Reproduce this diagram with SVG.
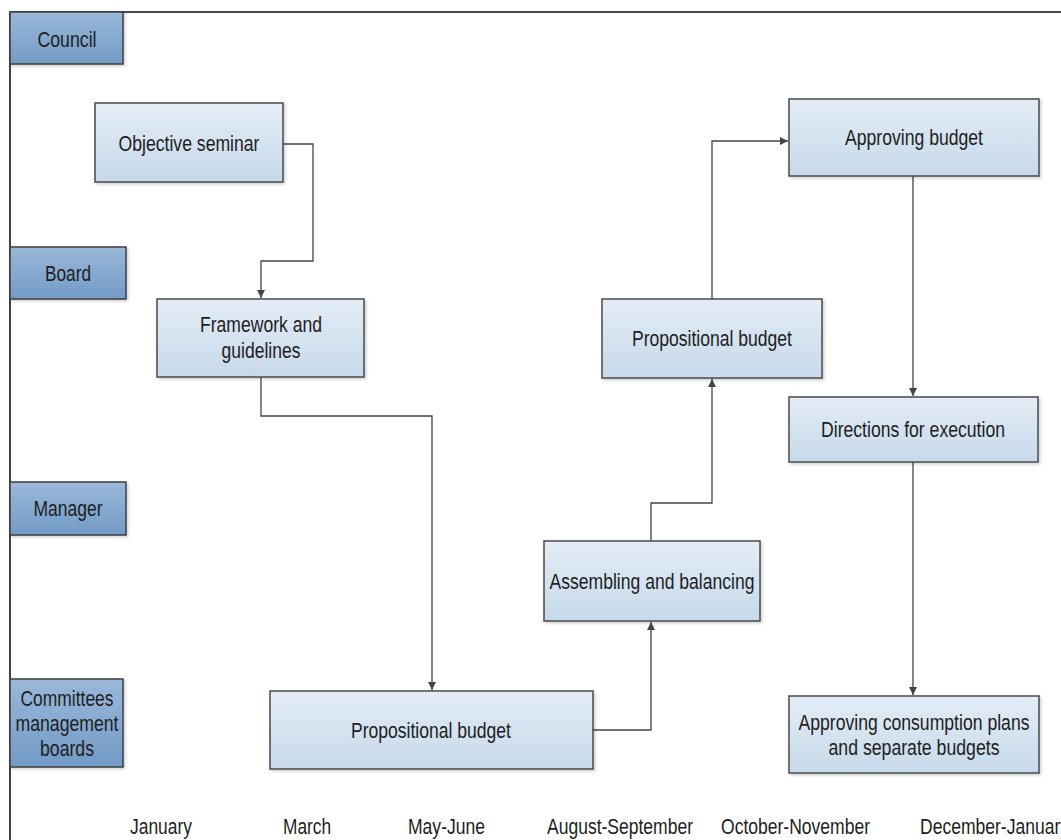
<svg xmlns="http://www.w3.org/2000/svg" width="1061" height="840" viewBox="0 0 1061 840">
  <style>
    .lane { fill: url(#laneGrad); stroke: #3f3f3f; stroke-width: 1.5; filter: url(#shadow); }
    .proc { fill: url(#procGrad); stroke: #4a4a4a; stroke-width: 1.5; filter: url(#shadow); }
    .t { font-family: "Liberation Sans Narrow", "Liberation Sans", Arial, sans-serif; font-size: 22px; fill: #1e1e1e; text-anchor: middle; }
    .m { font-family: "Liberation Sans Narrow", "Liberation Sans", Arial, sans-serif; font-size: 22px; fill: #1e1e1e; text-anchor: start; }
    .conn { fill: none; stroke: #444; stroke-width: 1.3; }
    .frame { fill: none; stroke: #111; stroke-width: 1.6; }
  </style>
  <defs>
    <linearGradient id="laneGrad" x1="0" y1="0" x2="0" y2="1">
      <stop offset="0" stop-color="#9ab9da"/>
      <stop offset="1" stop-color="#729ac6"/>
    </linearGradient>
    <linearGradient id="procGrad" x1="0" y1="0" x2="0" y2="1">
      <stop offset="0" stop-color="#e4edf6"/>
      <stop offset="1" stop-color="#c6d9ea"/>
    </linearGradient>
    <filter id="shadow" x="-10%" y="-10%" width="130%" height="130%">
      <feDropShadow dx="1.5" dy="1.5" stdDeviation="1.5" flood-color="#000" flood-opacity="0.2"/>
    </filter>
    <marker id="arr" markerWidth="10" markerHeight="10" refX="8" refY="4" orient="auto" markerUnits="userSpaceOnUse">
      <path d="M0,0 L8,4 L0,8 Z" fill="#444"/>
    </marker>
  </defs>
  <rect x="0" y="0" width="1061" height="840" fill="#fff"/>

  <g id="frame">
    <line class="frame" x1="10" y1="12" x2="1061" y2="12"/>
    <line class="frame" x1="10" y1="12" x2="10" y2="840"/>
  </g>

  <g id="connectors">
    <polyline class="conn" points="283,144 313,144 313,261 261,261 261,298" marker-end="url(#arr)"/>
    <polyline class="conn" points="261,377 261,416 432,416 432,690" marker-end="url(#arr)"/>
    <polyline class="conn" points="593,730 651,730 651,622" marker-end="url(#arr)"/>
    <polyline class="conn" points="651,541 651,503 712,503 712,379" marker-end="url(#arr)"/>
    <polyline class="conn" points="712,299 712,141 788,141" marker-end="url(#arr)"/>
    <polyline class="conn" points="913,176 913,396" marker-end="url(#arr)"/>
    <polyline class="conn" points="913,462 913,695" marker-end="url(#arr)"/>
  </g>

  <g id="lane-council">
    <rect class="lane" x="10" y="12" width="113" height="52"/>
    <text class="t" x="67" y="47" textLength="59" lengthAdjust="spacingAndGlyphs">Council</text>
  </g>
  <g id="lane-board">
    <rect class="lane" x="10" y="247" width="116" height="52"/>
    <text class="t" x="68" y="281" textLength="46" lengthAdjust="spacingAndGlyphs">Board</text>
  </g>
  <g id="lane-manager">
    <rect class="lane" x="10" y="482" width="116" height="53"/>
    <text class="t" x="68" y="516" textLength="69" lengthAdjust="spacingAndGlyphs">Manager</text>
  </g>
  <g id="lane-committees">
    <rect class="lane" x="10" y="679" width="113" height="88"/>
    <text class="t" x="67" y="706" textLength="93" lengthAdjust="spacingAndGlyphs">Committees</text>
    <text class="t" x="67" y="731" textLength="103" lengthAdjust="spacingAndGlyphs">management</text>
    <text class="t" x="67" y="756" textLength="54" lengthAdjust="spacingAndGlyphs">boards</text>
  </g>

  <g id="objective-seminar">
    <rect class="proc" x="95" y="103" width="188" height="79"/>
    <text class="t" x="189" y="151" textLength="141" lengthAdjust="spacingAndGlyphs">Objective seminar</text>
  </g>
  <g id="framework">
    <rect class="proc" x="157" y="299" width="207" height="78"/>
    <text class="t" x="261" y="332" textLength="122" lengthAdjust="spacingAndGlyphs">Framework and</text>
    <text class="t" x="261" y="358" textLength="79" lengthAdjust="spacingAndGlyphs">guidelines</text>
  </g>
  <g id="propositional-budget-committees">
    <rect class="proc" x="270" y="691" width="323" height="78"/>
    <text class="t" x="431" y="738" textLength="160" lengthAdjust="spacingAndGlyphs">Propositional budget</text>
  </g>
  <g id="assembling">
    <rect class="proc" x="544" y="541" width="216" height="80"/>
    <text class="t" x="652" y="589" textLength="205" lengthAdjust="spacingAndGlyphs">Assembling and balancing</text>
  </g>
  <g id="propositional-budget-board">
    <rect class="proc" x="602" y="299" width="220" height="79"/>
    <text class="t" x="712" y="346" textLength="160" lengthAdjust="spacingAndGlyphs">Propositional budget</text>
  </g>
  <g id="approving-budget">
    <rect class="proc" x="789" y="99" width="250" height="77"/>
    <text class="t" x="914" y="145" textLength="138" lengthAdjust="spacingAndGlyphs">Approving budget</text>
  </g>
  <g id="directions">
    <rect class="proc" x="789" y="397" width="249" height="65"/>
    <text class="t" x="913" y="437" textLength="184" lengthAdjust="spacingAndGlyphs">Directions for execution</text>
  </g>
  <g id="approving-consumption">
    <rect class="proc" x="789" y="696" width="250" height="77"/>
    <text class="t" x="914" y="730" textLength="231" lengthAdjust="spacingAndGlyphs">Approving consumption plans</text>
    <text class="t" x="914" y="755" textLength="171" lengthAdjust="spacingAndGlyphs">and separate budgets</text>
  </g>

  <g id="months">
    <text class="m" x="130" y="834" textLength="62" lengthAdjust="spacingAndGlyphs">January</text>
    <text class="m" x="283" y="834" textLength="48" lengthAdjust="spacingAndGlyphs">March</text>
    <text class="m" x="408" y="834" textLength="77" lengthAdjust="spacingAndGlyphs">May-June</text>
    <text class="m" x="547" y="834" textLength="146" lengthAdjust="spacingAndGlyphs">August-September</text>
    <text class="m" x="721" y="834" textLength="149" lengthAdjust="spacingAndGlyphs">October-November</text>
    <text class="m" x="920" y="834" textLength="149" lengthAdjust="spacingAndGlyphs">December-January</text>
  </g>
</svg>
